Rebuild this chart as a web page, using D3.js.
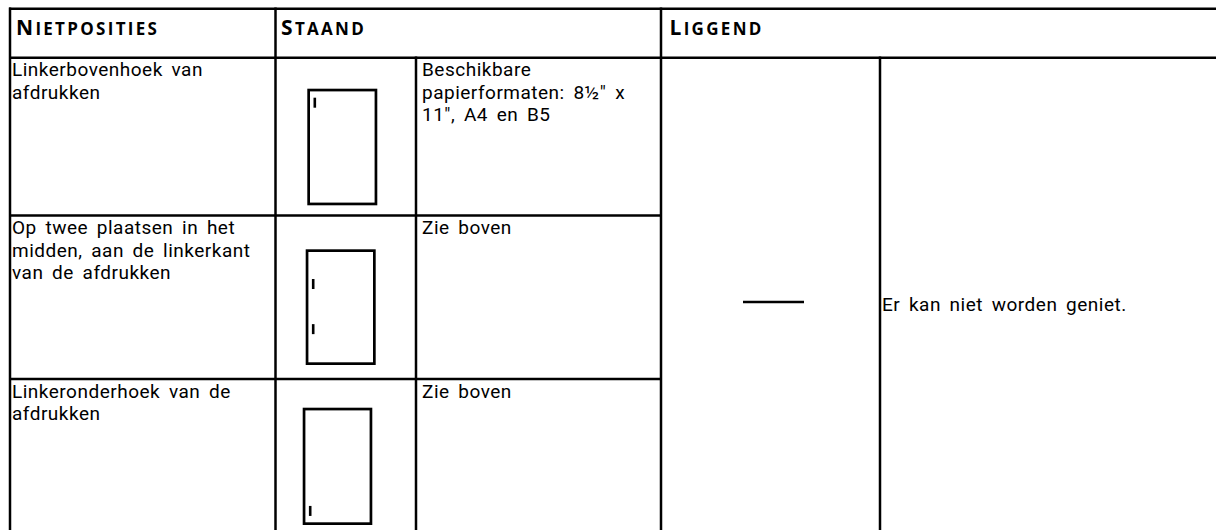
<!DOCTYPE html>
<html>
<head>
<meta charset="utf-8">
<script src="https://cdn.jsdelivr.net/npm/d3@7"></script>
<style>
  html, body { margin: 0; padding: 0; background: #fff; }
  svg { display: block; }
  text { fill: #000; }
  .hdr { font-family: "Open Sans", "Noto Sans", sans-serif; }
  .body { font-family: Roboto, "Open Sans", sans-serif; }
</style>
</head>
<body>
<div id="chart"></div>
<script>
// ---- data ----
const headers = ["Nietposities", "Staand", "Liggend"];
const positions = [
  ["Linkerbovenhoek van", "afdrukken"],
  ["Op twee plaatsen in het", "midden, aan de linkerkant", "van de afdrukken"],
  ["Linkeronderhoek van de", "afdrukken"]
];
const portraitNotes = [
  ["Beschikbare", "papierformaten: 8\u00BD\" x", "11\", A4 en B5"],
  ["Zie boven"],
  ["Zie boven"]
];
// staple marks per row, as fraction of page height (0 = top, 1 = bottom)
const staples = [[0.12], [0.30, 0.69], [0.88]];
const landscapeNote = ["Er kan niet worden geniet."];

// ---- layout ----
const W = 1216, H = 530;
const colX = [10, 275.5, 416, 661, 880, 1216];
const rowY = [8.8, 57.8, 215.5, 379, 560];
const fontSize = 19, lineH = 22.5;

const svg = d3.select("#chart").append("svg").attr("width", W).attr("height", H);

const ink = "#000";
const g = svg.append("g");

const col = d3.scaleOrdinal().domain(d3.range(6)).range(colX);
const row = d3.scaleOrdinal().domain(d3.range(5)).range(rowY);
const sw = 2.5;

// Horizontal rules
[0, 1].forEach(r => {
  g.append("line").attr("x1", col(0) - 1).attr("x2", W).attr("y1", row(r)).attr("y2", row(r))
    .attr("stroke", ink).attr("stroke-width", sw);
});
[2, 3].forEach(r => {
  g.append("line").attr("x1", col(0) - 1).attr("x2", col(3)).attr("y1", row(r)).attr("y2", row(r))
    .attr("stroke", ink).attr("stroke-width", sw);
});

// Vertical rules
const vlines = [
  {x: col(0), y1: row(0), y2: H},
  {x: col(1), y1: row(0), y2: H},
  {x: col(2), y1: row(1), y2: H},
  {x: col(3), y1: row(0), y2: H},
  {x: col(4), y1: row(1), y2: H}
];
g.selectAll("line.v").data(vlines).enter().append("line").attr("class", "v")
  .attr("x1", d => d.x).attr("x2", d => d.x).attr("y1", d => d.y1 - 1.2).attr("y2", d => d.y2)
  .attr("stroke", ink).attr("stroke-width", sw);

// Headers (small caps)
const headerX = [col(0) + 6, col(1) + 5.5, col(3) + 8.5];
headers.forEach((h, i) => {
  const t = g.append("text").attr("class", "hdr").attr("x", headerX[i]).attr("y", 35)
    .style("font-weight", 700).style("letter-spacing", "2.3px");
  t.append("tspan").style("font-size", "21px").text(h[0].toUpperCase());
  t.append("tspan").style("font-size", "17px").text(h.slice(1).toUpperCase());
});

// multi-line text helper
function multiline(x, y, lines) {
  const t = g.append("text").attr("class", "body").attr("x", x).attr("y", y)
    .style("font-size", fontSize + "px").style("word-spacing", "3.5px")
    .style("letter-spacing", "0.5px");
  t.selectAll("tspan").data(lines).enter().append("tspan")
    .attr("x", x).attr("dy", (d, i) => i === 0 ? 0 : lineH).text(d => d);
}

positions.forEach((lines, r) => multiline(col(0) + 2, row(r + 1) + 18.5, lines));
portraitNotes.forEach((lines, r) => multiline(col(2) + 6, row(r + 1) + 18.5, lines));

// Page icons (portrait)
const pageBoxes = [
  {x: 307.3, y: 88.7, w: 70, h: 116.6},
  {x: 305.7, y: 249.3, w: 70, h: 115.7},
  {x: 302.7, y: 407.7, w: 69.6, h: 117.3}
];
pageBoxes.forEach((b, r) => {
  const pw = 2.7;
  g.append("rect").attr("x", b.x + pw / 2).attr("y", b.y + pw / 2)
    .attr("width", b.w - pw).attr("height", b.h - pw)
    .attr("fill", "none").attr("stroke", ink).attr("stroke-width", pw);
  const sy = d3.scaleLinear().domain([0, 1]).range([b.y, b.y + b.h]);
  g.selectAll(null).data(staples[r]).enter().append("rect")
    .attr("x", b.x + 6.2).attr("width", 2.6)
    .attr("y", d => sy(d) - 5).attr("height", 10)
    .attr("fill", ink);
});

// Landscape: dash + note
g.append("line").attr("x1", 743).attr("x2", 804).attr("y1", 302).attr("y2", 302)
  .attr("stroke", ink).attr("stroke-width", 2.7);
multiline(col(4) + 2, 311, landscapeNote);
</script>
</body>
</html>
